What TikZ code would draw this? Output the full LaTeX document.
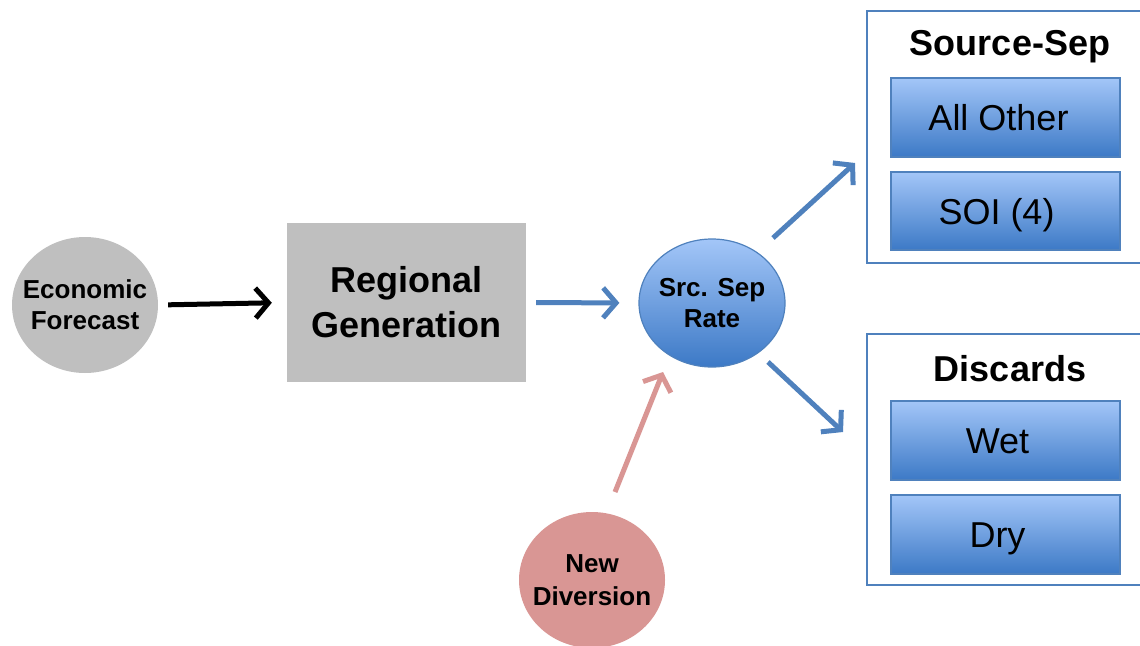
\documentclass[tikz,border=0pt]{standalone}
\usepackage{fontspec}
\setmainfont{Liberation Sans}
\usetikzlibrary{arrows.meta,shapes.geometric}
\definecolor{obl}{HTML}{4F81BD}
\definecolor{lbl}{HTML}{A3C6F8}
\definecolor{dbl}{HTML}{3C79C6}
\definecolor{gry}{HTML}{BFBFBF}
\definecolor{pnk}{HTML}{D99694}
\tikzset{
  small/.style={font=\fontsize{26}{31}\selectfont\bfseries, align=center},
  ell/.style={ellipse, inner xsep=-16pt, inner ysep=-20pt},
  gcirc/.style={ell, fill=gry, minimum width=146pt, minimum height=136pt, small},
  bcirc/.style={ell, draw=obl, line width=1.2pt, top color=lbl, bottom color=dbl, minimum width=146pt, minimum height=128pt, small},
  pcirc/.style={ell, fill=pnk, minimum width=146pt, minimum height=136pt, font=\fontsize{26}{33}\selectfont\bfseries, align=center},
  outerbox/.style={rectangle, draw=obl, line width=2pt, fill=white, anchor=north west, inner sep=0pt},
  innerbox/.style={rectangle, draw=obl, line width=1.2pt, top color=lbl, bottom color=dbl, inner sep=0pt, minimum width=229pt, font=\fontsize{36}{40}\selectfont, text height=26pt, text depth=0pt},
  title/.style={font=\fontsize{36}{40}\selectfont\bfseries, anchor=base, inner sep=0pt},
  conn/.style={line width=5pt, -{Straight Barb[length=13pt,width=30pt]}},
}
\begin{document}
\begin{tikzpicture}[x=1pt,y=-1pt]
\useasboundingbox (0,0) rectangle (1140,645);
% nodes
\node[gcirc] (ef) at (85,305) {Economic\\Forecast};
\node[rectangle, fill=gry, minimum width=239pt, minimum height=159pt, inner sep=0pt,
      font=\fontsize{36}{45}\selectfont\bfseries, align=center] (rg) at (406.5,302.5) {Regional\\Generation};
\node[bcirc] (ssr) at (712,303) {Src. Sep\\Rate};
\node[pcirc] (nd) at (592,580) {New\\Diversion};
% output boxes
\node[outerbox, minimum width=290pt, minimum height=252pt] (ss) at (866,10) {};
\node[title] (sst) at (1010,55) {Source-Sep};
\node[innerbox, minimum height=79pt] (ao) at (1005.5,117.5) {All Other\hspace*{14pt}};
\node[innerbox, minimum height=78pt] (soi) at (1005.5,211) {SOI (4)\hspace*{18pt}};
\node[outerbox, minimum width=290pt, minimum height=251pt] (dc) at (866,333) {};
\node[title] (dct) at (1010,381) {Discards};
\node[innerbox, minimum height=79pt] (wet) at (1005.5,440.5) {Wet\hspace*{16pt}};
\node[innerbox, minimum height=79pt] (dry) at (1005.5,534.5) {Dry\hspace*{16pt}};
% connector end points
\coordinate (ssr-up) at (773,238);
\coordinate (ss-in) at (855,163);
\coordinate (ssr-dn) at (768,362);
\coordinate (dc-in) at (843,432);
\coordinate (nd-out) at (615,492);
\coordinate (ssr-in) at (663,372);
% connectors
\draw[conn, black, shorten <=10pt, shorten >=15pt] (ef.east) -- (rg.west);
\draw[conn, obl, shorten <=10pt, shorten >=19pt] (rg.east) -- (ssr.west);
\draw[conn, obl] (ssr-up) -- (ss-in);
\draw[conn, obl] (ssr-dn) -- (dc-in);
\draw[conn, pnk] (nd-out) -- (ssr-in);
\end{tikzpicture}
\end{document}
